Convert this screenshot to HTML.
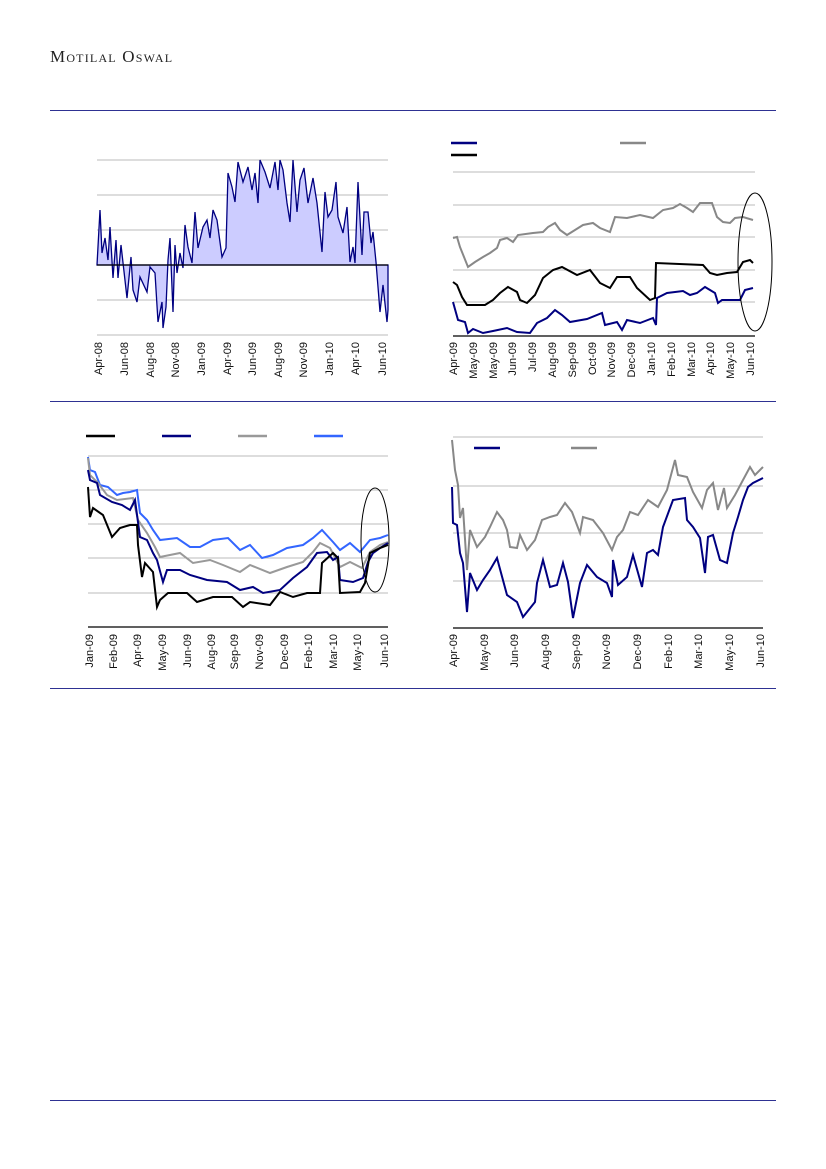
<!DOCTYPE html>
<html><head><meta charset="utf-8"><style>
html,body{margin:0;padding:0;background:#fff;}
body{width:826px;height:1169px;position:relative;overflow:hidden;}
svg{position:absolute;left:0;top:0;}
</style></head><body>
<svg width="826" height="1169" viewBox="0 0 826 1169" xmlns="http://www.w3.org/2000/svg" font-family="Liberation Sans, Arial, sans-serif">
<text x="50" y="62" font-family="Liberation Serif, serif" font-size="17" fill="#222" style="font-variant:small-caps;letter-spacing:1.2px">Motilal Oswal</text>
<g stroke="#2e3192" stroke-width="1">
<line x1="50" y1="110.5" x2="776" y2="110.5"/>
<line x1="50" y1="401.5" x2="776" y2="401.5"/>
<line x1="50" y1="688.5" x2="776" y2="688.5"/>
<line x1="50" y1="1100.5" x2="776" y2="1100.5"/>
</g>

<!-- Chart 1 -->
<g stroke="#bbb" stroke-width="1">
<line x1="97" y1="160" x2="388" y2="160"/><line x1="97" y1="195" x2="388" y2="195"/>
<line x1="97" y1="230" x2="388" y2="230"/><line x1="97" y1="300" x2="388" y2="300"/>
<line x1="97" y1="335" x2="388" y2="335"/>
</g>
<polygon fill="#ccccff" stroke="#000080" stroke-width="1.3" points="97,265 100,210 102,253 105,238 108,260 110,227 113,278 116,240 118,278 121,245 127,298 131,257 133,290 137,302 140,277 147,292 150,267 155,273 158,322 162,302 163,328 166,307 168,260 170,238 173,312 175,245 177,273 180,253 183,268 185,225 188,247 192,263 195,212 198,248 203,227 207,220 210,238 213,210 217,220 222,257 226,248 228,173 232,187 235,202 238,162 243,182 248,167 252,190 255,173 258,203 260,160 265,172 270,188 275,162 278,190 280,160 283,170 287,203 290,222 293,160 297,212 300,180 304,168 308,203 313,178 317,203 322,252 325,192 328,217 332,210 336,182 338,217 343,233 347,207 350,262 353,247 355,263 358,182 362,255 364,212 368,212 371,243 373,232 376,262 380,312 383,285 387,322 388,310 388,265"/>
<line x1="97" y1="265" x2="388" y2="265" stroke="#000" stroke-width="1.3"/>
<g font-size="11" fill="#111" text-anchor="end">
<text transform="translate(102,342) rotate(-90)">Apr-08</text>
<text transform="translate(128,342) rotate(-90)">Jun-08</text>
<text transform="translate(154,342) rotate(-90)">Aug-08</text>
<text transform="translate(179,342) rotate(-90)">Nov-08</text>
<text transform="translate(205,342) rotate(-90)">Jan-09</text>
<text transform="translate(231,342) rotate(-90)">Apr-09</text>
<text transform="translate(256,342) rotate(-90)">Jun-09</text>
<text transform="translate(282,342) rotate(-90)">Aug-09</text>
<text transform="translate(307,342) rotate(-90)">Nov-09</text>
<text transform="translate(333,342) rotate(-90)">Jan-10</text>
<text transform="translate(359,342) rotate(-90)">Apr-10</text>
<text transform="translate(386,342) rotate(-90)">Jun-10</text>
</g>

<!-- Chart 2 -->
<g stroke="#bbb" stroke-width="1">
<line x1="453" y1="172" x2="755" y2="172"/><line x1="453" y1="205" x2="755" y2="205"/>
<line x1="453" y1="237" x2="755" y2="237"/><line x1="453" y1="270" x2="755" y2="270"/>
<line x1="453" y1="302" x2="755" y2="302"/>
</g>
<line x1="453" y1="336" x2="755" y2="336" stroke="#000" stroke-width="1.3"/>
<line x1="451" y1="143" x2="477" y2="143" stroke="#000080" stroke-width="2.5"/>
<line x1="620" y1="143" x2="646" y2="143" stroke="#888" stroke-width="2.5"/>
<line x1="451" y1="155" x2="477" y2="155" stroke="#000" stroke-width="2.5"/>
<g fill="none" stroke-width="2">
<polyline stroke="#888" points="453,238 457,237 460,247 468,267 475,262 483,257 490,253 497,248 500,240 507,238 513,242 518,235 533,233 543,232 548,227 555,223 560,230 567,235 575,230 583,225 593,223 600,228 610,232 615,217 627,218 640,215 653,218 663,210 673,208 680,204 687,208 693,212 700,203 712,203 717,217 723,222 730,223 735,218 743,217 753,220"/>
<polyline stroke="#000" points="453,282 457,285 462,297 467,305 477,305 485,305 493,300 500,293 508,287 517,292 520,300 527,303 535,295 543,278 553,270 562,267 577,275 590,270 600,283 610,288 617,277 630,277 637,288 650,300 655,298 656,263 703,265 710,273 717,275 727,273 737,272 743,262 750,260 753,263"/>
<polyline stroke="#000080" points="453,302 458,320 465,322 468,333 473,329 483,333 493,331 507,328 517,332 530,333 537,323 547,318 555,310 562,315 570,322 587,319 602,313 605,325 617,322 622,330 627,320 640,323 653,318 656,325 657,298 667,293 683,291 690,295 697,293 705,287 715,293 718,303 722,300 740,300 745,290 753,288"/>
</g>
<ellipse cx="755" cy="262" rx="17" ry="69" fill="none" stroke="#000" stroke-width="1"/>
<g font-size="11" fill="#111" text-anchor="end">
<text transform="translate(457,342) rotate(-90)">Apr-09</text>
<text transform="translate(477,342) rotate(-90)">May-09</text>
<text transform="translate(497,342) rotate(-90)">May-09</text>
<text transform="translate(516,342) rotate(-90)">Jun-09</text>
<text transform="translate(536,342) rotate(-90)">Jul-09</text>
<text transform="translate(556,342) rotate(-90)">Aug-09</text>
<text transform="translate(576,342) rotate(-90)">Sep-09</text>
<text transform="translate(596,342) rotate(-90)">Oct-09</text>
<text transform="translate(615,342) rotate(-90)">Nov-09</text>
<text transform="translate(635,342) rotate(-90)">Dec-09</text>
<text transform="translate(655,342) rotate(-90)">Jan-10</text>
<text transform="translate(675,342) rotate(-90)">Feb-10</text>
<text transform="translate(695,342) rotate(-90)">Mar-10</text>
<text transform="translate(714,342) rotate(-90)">Apr-10</text>
<text transform="translate(734,342) rotate(-90)">May-10</text>
<text transform="translate(754,342) rotate(-90)">Jun-10</text>
</g>

<!-- Chart 3 -->
<g stroke="#bbb" stroke-width="1">
<line x1="88" y1="456" x2="388" y2="456"/><line x1="88" y1="490" x2="388" y2="490"/>
<line x1="88" y1="524" x2="388" y2="524"/><line x1="88" y1="558" x2="388" y2="558"/>
<line x1="88" y1="593" x2="388" y2="593"/>
</g>
<line x1="88" y1="627" x2="388" y2="627" stroke="#000" stroke-width="1.3"/>
<line x1="86" y1="436" x2="115" y2="436" stroke="#000" stroke-width="2.5"/>
<line x1="162" y1="436" x2="191" y2="436" stroke="#000080" stroke-width="2.5"/>
<line x1="238" y1="436" x2="267" y2="436" stroke="#999" stroke-width="2.5"/>
<line x1="314" y1="436" x2="343" y2="436" stroke="#3366ff" stroke-width="2.5"/>
<g fill="none" stroke-width="2">
<polyline stroke="#3366ff" points="88,457 90,470 95,472 100,485 108,487 117,495 123,493 130,492 137,490 140,513 147,520 153,530 160,540 177,538 190,547 200,547 213,540 228,538 240,550 250,545 262,558 273,555 287,548 303,545 313,538 322,530 333,542 340,550 350,543 360,552 370,540 380,538 388,535"/>
<polyline stroke="#999" points="88,458 90,475 98,483 107,495 117,500 133,498 138,520 147,533 155,547 160,557 180,553 193,563 210,560 223,565 240,572 250,565 270,573 287,567 303,562 313,552 320,543 330,548 340,567 350,562 362,568 370,552 380,545 388,542"/>
<polyline stroke="#000080" points="88,470 90,480 97,483 100,495 112,502 122,505 130,510 135,500 140,537 147,540 153,553 157,560 163,582 167,570 180,570 190,575 207,580 227,582 240,590 253,587 263,593 280,590 293,578 307,567 317,553 327,552 333,560 338,557 340,580 353,582 363,578 368,562 373,553 380,548 388,543"/>
<polyline stroke="#000" points="88,487 90,517 93,508 103,515 112,537 120,528 130,525 137,525 138,545 142,577 145,563 153,572 157,607 160,600 168,593 187,593 197,602 213,597 232,597 243,607 250,602 270,605 280,592 293,597 307,593 320,593 322,563 333,553 338,558 340,593 360,592 365,583 370,553 380,548 388,545"/>
</g>
<ellipse cx="375" cy="540" rx="14" ry="52" fill="none" stroke="#000" stroke-width="1"/>
<g font-size="11" fill="#111" text-anchor="end">
<text transform="translate(93,634) rotate(-90)">Jan-09</text>
<text transform="translate(117,634) rotate(-90)">Feb-09</text>
<text transform="translate(141,634) rotate(-90)">Apr-09</text>
<text transform="translate(166,634) rotate(-90)">May-09</text>
<text transform="translate(191,634) rotate(-90)">Jun-09</text>
<text transform="translate(215,634) rotate(-90)">Aug-09</text>
<text transform="translate(238,634) rotate(-90)">Sep-09</text>
<text transform="translate(263,634) rotate(-90)">Nov-09</text>
<text transform="translate(288,634) rotate(-90)">Dec-09</text>
<text transform="translate(312,634) rotate(-90)">Feb-10</text>
<text transform="translate(337,634) rotate(-90)">Mar-10</text>
<text transform="translate(361,634) rotate(-90)">May-10</text>
<text transform="translate(388,634) rotate(-90)">Jun-10</text>
</g>

<!-- Chart 4 -->
<g stroke="#bbb" stroke-width="1">
<line x1="453" y1="437" x2="763" y2="437"/><line x1="453" y1="486" x2="763" y2="486"/>
<line x1="453" y1="533" x2="763" y2="533"/><line x1="453" y1="581" x2="763" y2="581"/>
</g>
<line x1="453" y1="628" x2="763" y2="628" stroke="#000" stroke-width="1.3"/>
<line x1="474" y1="448" x2="500" y2="448" stroke="#000080" stroke-width="2.5"/>
<line x1="571" y1="448" x2="597" y2="448" stroke="#888" stroke-width="2.5"/>
<g fill="none" stroke-width="2">
<polyline stroke="#888" points="452,440 455,470 458,485 460,518 463,508 467,570 470,530 477,547 485,537 490,527 497,512 503,520 507,530 510,547 517,548 520,535 527,550 535,540 542,520 550,517 557,515 565,503 572,512 580,533 583,517 593,520 603,533 612,550 617,537 623,530 630,512 638,515 648,500 658,507 667,490 675,460 678,475 687,477 693,492 702,508 707,490 713,483 718,510 724,488 727,508 735,495 743,480 750,467 755,475 763,467"/>
<polyline stroke="#000080" points="452,487 453,523 457,525 460,553 463,563 467,612 470,573 477,590 483,580 490,570 497,558 507,595 517,602 523,617 535,602 537,583 543,560 550,587 557,585 563,563 568,582 573,618 580,583 587,565 597,577 607,583 612,597 613,560 618,585 627,577 633,555 642,587 647,553 653,550 658,555 663,527 673,500 685,498 687,520 693,527 700,538 705,573 708,537 713,535 720,560 727,563 733,533 738,517 743,500 748,487 753,483 763,478"/>
</g>
<g font-size="11" fill="#111" text-anchor="end">
<text transform="translate(457,634) rotate(-90)">Apr-09</text>
<text transform="translate(488,634) rotate(-90)">May-09</text>
<text transform="translate(518,634) rotate(-90)">Jun-09</text>
<text transform="translate(549,634) rotate(-90)">Aug-09</text>
<text transform="translate(580,634) rotate(-90)">Sep-09</text>
<text transform="translate(610,634) rotate(-90)">Nov-09</text>
<text transform="translate(641,634) rotate(-90)">Dec-09</text>
<text transform="translate(672,634) rotate(-90)">Feb-10</text>
<text transform="translate(702,634) rotate(-90)">Mar-10</text>
<text transform="translate(733,634) rotate(-90)">May-10</text>
<text transform="translate(764,634) rotate(-90)">Jun-10</text>
</g>
</svg>
</body></html>
